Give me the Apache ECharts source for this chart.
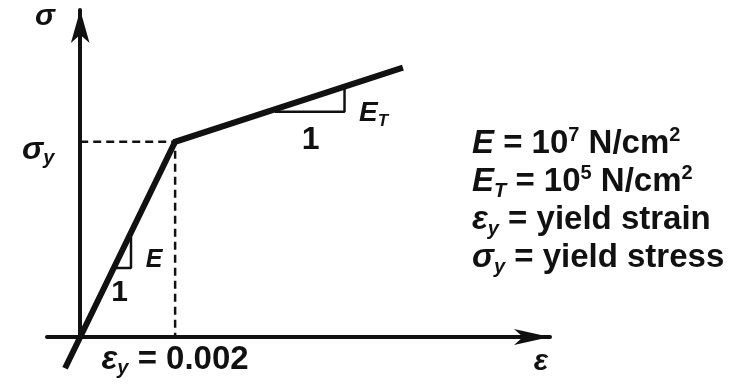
<!DOCTYPE html>
<html><head><meta charset="utf-8">
<script src="https://cdn.jsdelivr.net/npm/echarts@6/dist/echarts.min.js"></script>
<style>html,body{margin:0;padding:0;background:#fff}#c{width:737px;height:385px}</style>
</head><body><div id="c"></div>
<script>
// ---- data ----
const strain = [-0.00032, 0, 0.002, 0.0068];
const stress = [-3200, 0, 20000, 27600];
const yieldStrain = 0.002;
const yieldStress = 20000;
const triEStrain = [0.00072, 0.00107, 0.00107];
const triEStress = [7080, 7080, 10300];
const triETStrain = [0.0041, 0.00557, 0.00557];
const triETStress = [23077, 23077, 25600];
const xTickValues = [0.002];
const xTickLabels = ['{i|ε}{sub|y}{n| = 0.002}'];
const yTickValues = [20000];
const yTickLabels = ['{i|σ}{sub|y}'];
const xAxisName = 'ε';
const yAxisName = 'σ';
const noteLines = [
  '{i|E}{n| = 10}{sup|7}{n| N/cm}{sup|2}',
  '{i|E}{sub|T}{n| = 10}{sup|5}{n| N/cm}{sup|2}',
  '{i|ε}{sub|y}{n| = yield strain}',
  '{i|σ}{sub|y}{n| = yield stress}'
];

// ---- styling ----
const F = 'Liberation Sans, Arial, sans-serif';
const C = '#111';
function rich(size, lh) {
  const s = Math.round(size * 0.62);
  return {
    i: {fontFamily: F, fontWeight: 'bold', fontStyle: 'italic', fontSize: size, lineHeight: lh, color: C},
    n: {fontFamily: F, fontWeight: 'bold', fontSize: size, lineHeight: lh, color: C},
    sup: {fontFamily: F, fontWeight: 'bold', fontSize: s, lineHeight: Math.round(s * 1.2), verticalAlign: 'top', color: C},
    sub: {fontFamily: F, fontWeight: 'bold', fontStyle: 'italic', fontSize: s, lineHeight: Math.round(s * 0.7), verticalAlign: 'bottom', color: C}
  };
}
const pair = (xs, ys) => xs.map((x, i) => [x, ys[i]]);
const near = (a, b) => Math.abs(a - b) < 1e-9 * Math.max(1, Math.abs(b));

function triLabels(xs, ys, slopeText, oneOff, slopeOff, oneSize, slopeSize) {
  const hMid = [(xs[0] + xs[1]) / 2, ys[0]];
  const vMid = [xs[1], (ys[1] + ys[2]) / 2];
  const base = {show: true, position: 'inside', color: C, textBorderWidth: 0};
  return [
    {value: hMid, label: Object.assign({}, base, {formatter: '{n|1}', offset: oneOff, rich: rich(oneSize, oneSize + 4)})},
    {value: vMid, label: Object.assign({}, base, {formatter: slopeText, offset: slopeOff, rich: rich(slopeSize, slopeSize + 4)})}
  ];
}

const chart = echarts.init(document.getElementById('c'), null, {renderer: 'canvas'});
chart.setOption({
  animation: false,
  backgroundColor: '#fff',
  grid: {left: 47, right: 187, top: 10, bottom: 48, containLabel: false, outerBoundsMode: 'none'},
  xAxis: {
    type: 'value', min: -0.0007, max: 0.0099,
    axisLine: {show: true, symbol: ['none', 'arrow'], symbolSize: [12, 36], lineStyle: {color: C, width: 4}},
    axisTick: {show: false}, splitLine: {show: false},
    axisLabel: {
      customValues: xTickValues, margin: 5,
      formatter: v => { const k = xTickValues.findIndex(t => near(v, t)); return k < 0 ? '' : xTickLabels[k]; },
      rich: rich(33, 36)
    }
  },
  yAxis: {
    type: 'value', min: 0, max: 33500,
    axisLine: {show: true, symbol: ['none', 'arrow'], symbolSize: [14, 33], lineStyle: {color: C, width: 4}},
    axisTick: {show: false}, splitLine: {show: false},
    axisLabel: {
      customValues: yTickValues, margin: 25, align: 'left', padding: [17, 0, 0, 0],
      formatter: v => { const k = yTickValues.findIndex(t => near(v, t)); return k < 0 ? '' : yTickLabels[k]; },
      rich: rich(32, 37)
    }
  },
  graphic: [
    {type: 'text', x: 472, y: 125, z: 10,
     style: {text: noteLines.join('\n'), rich: rich(33, 38), fill: C}},
    {type: 'text', x: 55, y: 17, z: 10,
     style: {text: yAxisName, font: 'italic bold 30px ' + F, fill: C, align: 'right', verticalAlign: 'middle'}},
    {type: 'text', x: 541, y: 362, z: 10,
     style: {text: xAxisName, font: 'italic bold 30px ' + F, fill: C, align: 'center', verticalAlign: 'middle'}}
  ],
  series: [
    {type: 'line', data: [[0, yieldStress], [yieldStrain, yieldStress], [yieldStrain, 0]],
     symbol: 'none', silent: true, z: 2, lineStyle: {color: C, width: 2.5, type: [8, 5]}},
    {type: 'line', data: pair(triEStrain, triEStress), symbol: 'none', silent: true, z: 2,
     lineStyle: {color: C, width: 2.5}},
    {type: 'line', data: pair(triETStrain, triETStress), symbol: 'none', silent: true, z: 2,
     lineStyle: {color: C, width: 2.5}},
    {type: 'line', data: pair(strain, stress), symbol: 'none', clip: false, silent: true, z: 5,
     lineStyle: {color: C, width: 6, join: 'miter'}},
    {type: 'scatter', symbolSize: 0, silent: true, z: 6, itemStyle: {opacity: 1, color: C},
     data: triLabels(triEStrain, triEStress, '{i|E}', [-3, 25], [23, 8], 30, 25)
       .concat(triLabels(triETStrain, triETStress, '{i|E}{sub|T}', [1, 28], [29, 14], 32, 28))}
  ]
});
</script></body></html>
